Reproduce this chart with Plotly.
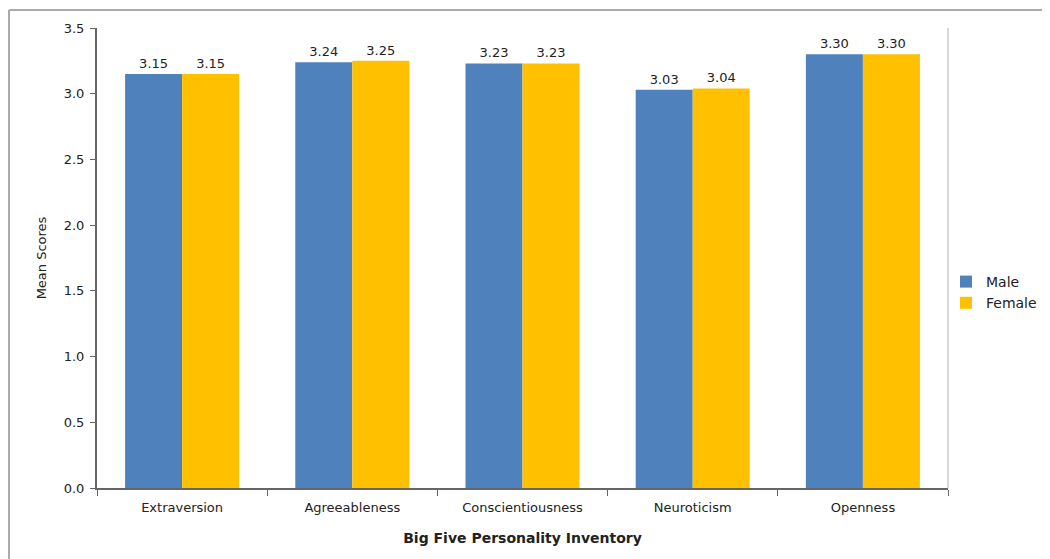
import plotly.graph_objects as go

categories = ["Extraversion", "Agreeableness", "Conscientiousness", "Neuroticism", "Openness"]
male = [3.15, 3.24, 3.23, 3.03, 3.30]
female = [3.15, 3.25, 3.23, 3.04, 3.30]
y_ticks = [0.0, 0.5, 1.0, 1.5, 2.0, 2.5, 3.0, 3.5]

# page body has an 8px margin, so the figure is drawn at (8, 8)
OFF = 8
W, H = 1050 - OFF, 559 - OFF
L, R, T, B = 97 - OFF, 1050 - 948, 28 - OFF, 559 - 488
pw, ph = W - L - R, H - T - B

font = "DejaVu Sans, sans-serif"
dark = "#222"

fig = go.Figure()
fig.add_trace(go.Bar(
    name="Male", x=categories, y=male, marker=dict(color="#4F81BD", line=dict(width=0)),
    text=[f"{v:.2f}" for v in male], textposition="outside", cliponaxis=False,
    textfont=dict(size=13, color=dark),
))
fig.add_trace(go.Bar(
    name="Female", x=categories, y=female, marker=dict(color="#FFC000", line=dict(width=0)),
    text=[f"{v:.2f}" for v in female], textposition="outside", cliponaxis=False,
    textfont=dict(size=13, color=dark),
))

fig.update_layout(
    width=W, height=H,
    margin=dict(l=L, r=R, t=T, b=B, autoexpand=False),
    paper_bgcolor="white", plot_bgcolor="white",
    barmode="group", bargap=0.33, bargroupgap=0,
    font=dict(family=font, size=13, color=dark),
    legend=dict(x=(946 - 97) / pw, y=(488 - 266) / ph, xanchor="left", yanchor="top",
                font=dict(size=14, color=dark), bgcolor="rgba(0,0,0,0)",
                itemwidth=30, tracegroupgap=0),
    showlegend=True,
    xaxis=dict(
        showline=True, linecolor="#666", linewidth=2,
        ticks="outside", tickson="boundaries", ticklen=6, tickcolor="#666", tickwidth=1,
        tickfont=dict(size=13, color=dark), ticklabelstandoff=6,
        title=dict(text="<b>Big Five Personality Inventory</b>", font=dict(size=14, color=dark), standoff=20),
    ),
    yaxis=dict(
        range=[0, 3.5], tickvals=y_ticks, ticktext=[f"{v:.1f}" for v in y_ticks],
        showline=True, linecolor="#666", linewidth=2,
        ticks="outside", ticklen=5, tickcolor="#666",
        showgrid=False, zeroline=False,
        tickfont=dict(size=13, color=dark), ticklabelstandoff=3,
        title=dict(text="Mean Scores", font=dict(size=13, color=dark), standoff=14),
    ),
    shapes=[
        dict(type="line", xref="paper", yref="paper", x0=1, x1=1, y0=0, y1=1,
             line=dict(color="#d9d9d9", width=2)),
        dict(type="line", xref="paper", yref="paper", x0=(9 - 97) / pw, x1=(1049 - 97) / pw,
             y0=(488 - 10) / ph, y1=(488 - 10) / ph, line=dict(color="#aaa", width=2)),
        dict(type="line", xref="paper", yref="paper", x0=(9 - 97) / pw, x1=(9 - 97) / pw,
             y0=(488 - 10) / ph, y1=(488 - 559) / ph, line=dict(color="#aaa", width=2)),
    ],
)

fig.write_html("out.html")
